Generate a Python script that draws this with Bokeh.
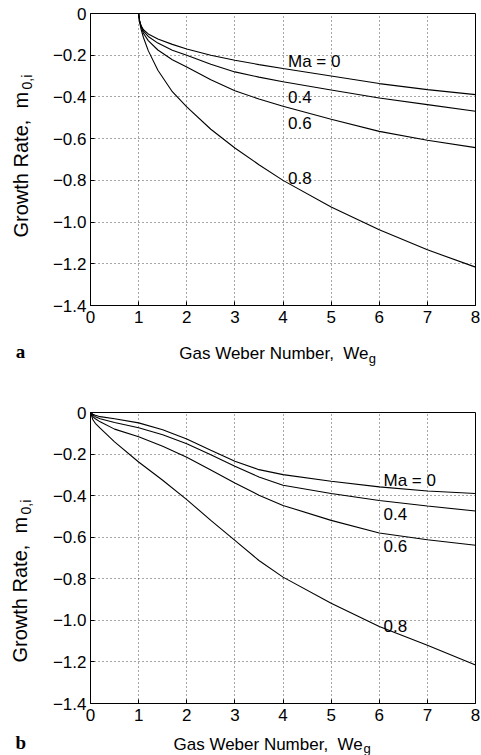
import math
from bokeh.plotting import figure
from bokeh.models import Range1d, FixedTicker, Label
from bokeh.layouts import column
from bokeh.embed import file_html
from bokeh.resources import INLINE

# ---------------- data ----------------
we_a = [1.0, 1.02, 1.05, 1.1, 1.2, 1.4, 1.7, 2.0, 2.5, 3.0, 3.5, 4.0, 5.0, 6.0, 7.0, 8.0]
ma00_a = [0, -0.035, -0.058, -0.078, -0.098, -0.122, -0.148, -0.170, -0.200, -0.224, -0.245, -0.264, -0.300, -0.336, -0.365, -0.389]
ma04_a = [0, -0.035, -0.060, -0.085, -0.110, -0.142, -0.176, -0.200, -0.243, -0.280, -0.305, -0.327, -0.367, -0.405, -0.437, -0.469]
ma06_a = [0, -0.037, -0.063, -0.095, -0.130, -0.175, -0.222, -0.256, -0.318, -0.370, -0.410, -0.445, -0.507, -0.565, -0.608, -0.643]
ma08_a = [0, -0.040, -0.075, -0.115, -0.178, -0.272, -0.375, -0.448, -0.555, -0.645, -0.725, -0.800, -0.928, -1.037, -1.133, -1.216]

we_b = [0.0, 0.05, 0.1, 0.2, 0.5, 1.0, 1.5, 2.0, 2.5, 3.0, 3.5, 4.0, 5.0, 6.0, 7.0, 8.0]
ma00_b = [0, -0.008, -0.013, -0.020, -0.030, -0.050, -0.083, -0.128, -0.182, -0.235, -0.275, -0.299, -0.331, -0.358, -0.378, -0.390]
ma04_b = [0, -0.012, -0.020, -0.030, -0.048, -0.073, -0.107, -0.150, -0.203, -0.259, -0.310, -0.350, -0.390, -0.423, -0.450, -0.474]
ma06_b = [0, -0.020, -0.030, -0.045, -0.080, -0.117, -0.162, -0.215, -0.277, -0.339, -0.398, -0.447, -0.519, -0.580, -0.612, -0.639]
ma08_b = [0, -0.035, -0.052, -0.075, -0.141, -0.238, -0.326, -0.419, -0.519, -0.615, -0.712, -0.792, -0.918, -1.030, -1.120, -1.215]

curve_labels = ["Ma = 0", "0.4", "0.6", "0.8"]

x_ticks = [0, 1, 2, 3, 4, 5, 6, 7, 8]
y_ticks = [-1.4, -1.2, -1.0, -0.8, -0.6, -0.4, -0.2, 0]
y_tick_labels = ["\u22121.4", "\u22121.2", "\u22121.0", "\u22120.8", "\u22120.6", "\u22120.4", "\u22120.2", "0"]
x_title = "Gas Weber Number,\u00a0 We"
x_title_sub = "g"
y_title = "Growth Rate,\u00a0 m"
y_title_sub = "0,i"

FONT = "Liberation Sans"
W = 481


def make_panel(fig_top, fig_h, frame, we, series, lab_px, letter, pos, places):
    left, right, top, bottom = frame
    p = figure(width=W, height=fig_h, output_backend="svg", toolbar_location=None,
               x_range=Range1d(0, 8), y_range=Range1d(-1.4, 0),
               min_border_left=left, min_border_right=W - right,
               min_border_top=top - fig_top, min_border_bottom=fig_top + fig_h - bottom)
    p.outline_line_color = "black"
    p.outline_line_width = 1

    for ys in series:
        p.line(we, ys, line_color="black", line_width=1.1)

    p.xaxis.ticker = FixedTicker(ticks=x_ticks)
    p.yaxis.ticker = FixedTicker(ticks=y_ticks)
    p.yaxis.major_label_overrides = {t: s for t, s in zip(y_ticks, y_tick_labels)}
    p.xaxis.major_label_overrides = {t: str(t) for t in x_ticks}
    for ax in (p.xaxis, p.yaxis):
        ax.major_tick_in = 4
        ax.major_tick_out = 0
        ax.minor_tick_line_color = None
        ax.axis_line_color = "black"
        ax.major_tick_line_color = "black"
        ax.major_label_text_font = FONT
        ax.major_label_text_font_size = "17px"
        ax.major_label_text_color = "black"
    p.xaxis.major_label_standoff = 5
    p.yaxis.major_label_standoff = 4

    for g in (p.xgrid, p.ygrid):
        g.grid_line_color = "#222222"
        g.grid_line_dash = "1 3"
        g.grid_line_width = 1
        g.grid_line_alpha = 0.8

    def d(px, py):
        return ((px - left) / (right - left) * 8.0,
                -(py - top) / (bottom - top) * 1.4)

    for txt, (px, py) in zip(curve_labels, lab_px):
        x, y = d(px, py)
        p.add_layout(Label(x=x, y=y, text=txt, text_font=FONT, text_font_size="17px",
                           text_align="left", text_baseline="middle", text_color="black"))

    def side_label(text, px, size, place, angle=0.0, font=FONT, style="normal"):
        x, y = d(*px)
        p.add_layout(Label(x=x, y=y, text=text, text_font=font, text_font_size=size,
                           text_font_style=style, angle=angle, text_align="left",
                           text_baseline="alphabetic", text_color="black"), place)

    side_label(x_title, pos["xt"], "17px", places["xt"])
    side_label(x_title_sub, pos["xs"], "13px", places["xs"])
    side_label(y_title, pos["yt"], "20px", places["yt"], angle=math.pi / 2)
    side_label(y_title_sub, pos["ys"], "14px", places["ys"], angle=math.pi / 2)
    side_label(letter, pos["letter"], "19px", places["letter"], font="Liberation Serif", style="bold")
    return p


pa = make_panel(0, 378, (89, 475, 13, 305), we_a, [ma00_a, ma04_a, ma06_a, ma08_a],
                [(287, 61), (287, 96), (287, 122), (287, 177)], "a",
                dict(xt=(178, 353), xs=(368, 358), yt=(19, 237), ys=(25, 89), letter=(14, 351)),
                dict(xt="below", xs="below", yt="left", ys="left", letter="left"))
pb = make_panel(378, 377, (90, 475, 412, 703), we_b, [ma00_b, ma04_b, ma06_b, ma08_b],
                [(383, 480), (383, 513), (383, 545), (383, 625)], "b",
                dict(xt=(173, 744), xs=(363, 748), yt=(19, 662), ys=(25, 514), letter=(15, 742)),
                dict(xt="below", xs="above", yt="left", ys="left", letter="left"))

layout = column(pa, pb, spacing=0)
open("out.html", "w").write(file_html(layout, INLINE))
